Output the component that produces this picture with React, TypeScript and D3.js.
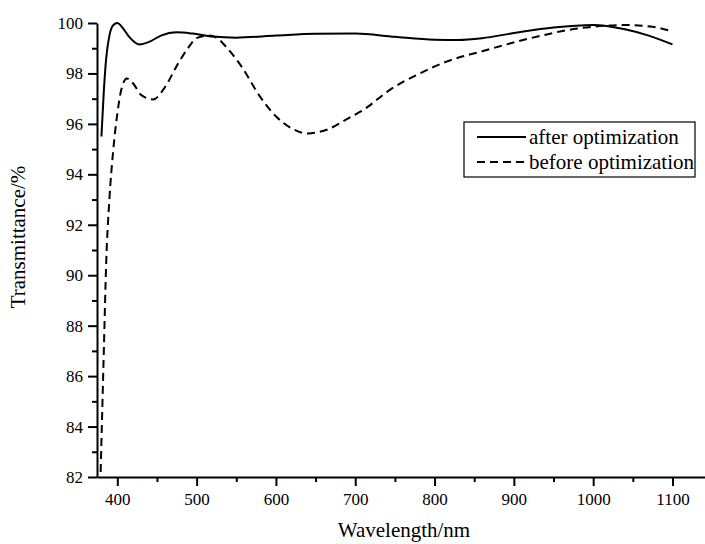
import React, { useEffect, useRef } from "react";
import * as d3 from "d3";

// wavelength (nm) / transmittance (%)
const afterX = [380, 383, 386, 390, 395, 400, 407, 415, 428, 440, 455, 475, 495, 520, 550, 600, 650, 700, 750, 800, 830, 860, 900, 950, 1000, 1040, 1070, 1100];
const afterY = [95.5, 97.3, 98.6, 99.5, 99.92, 100, 99.8, 99.45, 99.15, 99.25, 99.5, 99.63, 99.58, 99.46, 99.42, 99.5, 99.57, 99.58, 99.45, 99.34, 99.33, 99.4, 99.6, 99.82, 99.92, 99.75, 99.5, 99.15];

const beforeX = [379, 383, 386, 390, 395, 400, 405, 412, 420, 430, 445, 460, 475, 488, 500, 515, 525, 537, 555, 580, 600, 620, 640, 665, 690, 710, 745, 780, 815, 860, 920, 980, 1040, 1075, 1100];
const beforeY = [82.2, 87, 90.5, 93, 95, 96.4, 97.35, 97.8, 97.6, 97.15, 96.97, 97.45, 98.3, 98.95, 99.4, 99.5, 99.42, 99.06, 98.35, 97.08, 96.3, 95.82, 95.62, 95.78, 96.2, 96.55, 97.38, 97.98, 98.47, 98.88, 99.39, 99.78, 99.92, 99.85, 99.66];

const xTicks = [400, 500, 600, 700, 800, 900, 1000, 1100];
const xMinor = [450, 550, 650, 750, 850, 950, 1050];
const yTicks = [82, 84, 86, 88, 90, 92, 94, 96, 98, 100];
const yMinor = [83, 85, 87, 89, 91, 93, 95, 97, 99];

const legendNames = ["after optimization", "before optimization"];

const FONT = "Liberation Serif, Times New Roman, DejaVu Serif, serif";

export default function App() {
  const ref = useRef<SVGSVGElement>(null);

  useEffect(() => {
    const svg = d3.select(ref.current);
    svg.selectAll("*").remove();

    const x = d3.scaleLinear().domain([374.4, 1141]).range([97, 705]);
    const y = d3.scaleLinear().domain([82, 100]).range([477, 23]);

    // axes
    const xAxis = svg.append("g").attr("transform", "translate(0,477)");
    xAxis.call(d3.axisBottom(x).tickValues(xTicks).tickSize(9).tickSizeOuter(0).tickPadding(7).tickFormat(d3.format("d")));
    xAxis.append("g").call(d3.axisBottom(x).tickValues(xMinor).tickSize(5).tickSizeOuter(0).tickFormat(() => ""))
      .select(".domain").remove();

    const yAxis = svg.append("g").attr("transform", "translate(97,0)");
    yAxis.call(d3.axisLeft(y).tickValues(yTicks).tickSize(9).tickSizeOuter(0).tickPadding(5).tickFormat(d3.format("d")));
    yAxis.append("g").call(d3.axisLeft(y).tickValues(yMinor).tickSize(5).tickSizeOuter(0).tickFormat(() => ""))
      .select(".domain").remove();

    svg.selectAll("g").attr("font-family", null);
    svg.selectAll(".domain").attr("stroke", "#000").attr("stroke-width", 2);
    svg.selectAll(".tick line").attr("stroke", "#000").attr("stroke-width", 2);
    svg.selectAll(".tick text")
      .attr("fill", "#000")
      .attr("font-size", 17);

    // curves
    const line = d3.line<[number, number]>()
      .x((d) => x(d[0]))
      .y((d) => y(d[1]))
      .curve(d3.curveMonotoneX);

    const afterData = afterX.map((v, i) => [v, afterY[i]] as [number, number]);
    const beforeData = beforeX.map((v, i) => [v, beforeY[i]] as [number, number]);

    svg.append("path").datum(beforeData)
      .attr("d", line)
      .attr("fill", "none")
      .attr("stroke", "#000")
      .attr("stroke-width", 2)
      .attr("stroke-dasharray", "8,5");

    svg.append("path").datum(afterData)
      .attr("d", line)
      .attr("fill", "none")
      .attr("stroke", "#000")
      .attr("stroke-width", 2);

    // legend
    const lg = svg.append("g");
    lg.append("rect")
      .attr("x", 464).attr("y", 122).attr("width", 231).attr("height", 55)
      .attr("fill", "#fff").attr("stroke", "#000").attr("stroke-width", 1.2);
    legendNames.forEach((name, i) => {
      const yy = 137 + i * 25;
      lg.append("line")
        .attr("x1", 477).attr("x2", 526).attr("y1", yy).attr("y2", yy)
        .attr("stroke", "#000").attr("stroke-width", 2)
        .attr("stroke-dasharray", i === 1 ? "8,5" : null);
      lg.append("text")
        .attr("x", 529).attr("y", yy + 7)
        .attr("font-size", 21)
        .text(name);
    });

    // axis titles
    svg.append("text")
      .attr("x", 404).attr("y", 537)
      .attr("text-anchor", "middle")
      .attr("font-size", 21)
      .text("Wavelength/nm");

    svg.append("text")
      .attr("transform", "translate(25,237) rotate(-90)")
      .attr("text-anchor", "middle")
      .attr("font-size", 21)
      .text("Transmittance/%");
  }, []);

  return (
    <svg ref={ref} width={705} height={544} fontFamily={FONT}
      style={{ position: "absolute", left: 0, top: 0, background: "#fff" }} />
  );
}
